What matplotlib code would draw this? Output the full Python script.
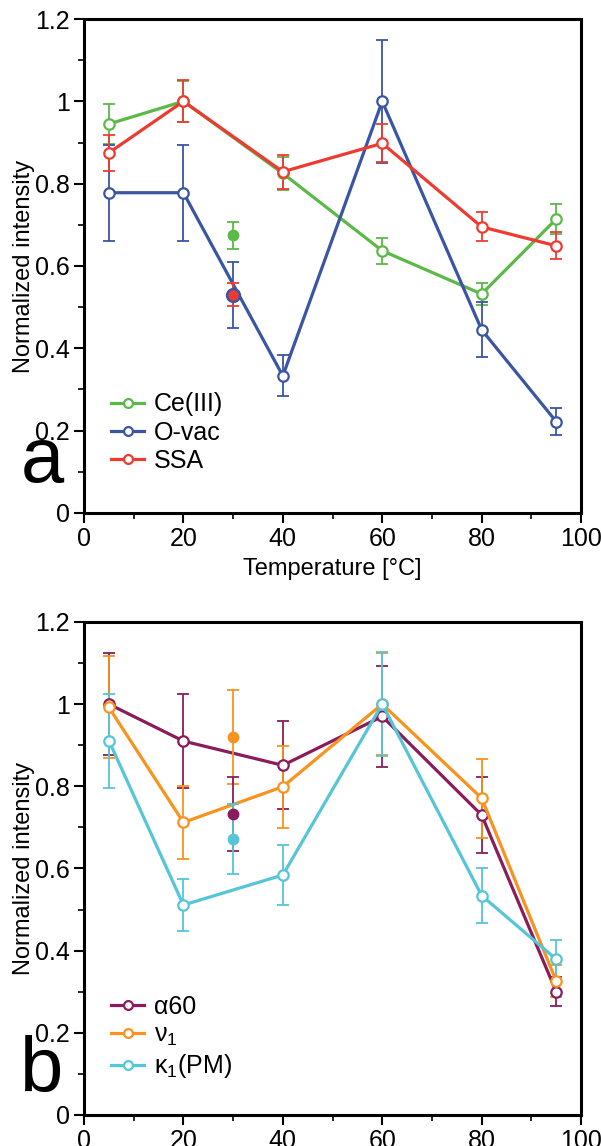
import matplotlib
matplotlib.use("Agg")
import matplotlib.pyplot as plt
from matplotlib.ticker import MultipleLocator, FuncFormatter

plt.rcParams["font.family"] = ["Liberation Sans", "DejaVu Sans"]
plt.rcParams["mathtext.fontset"] = "custom"
plt.rcParams["mathtext.rm"] = "Liberation Sans"
plt.rcParams["mathtext.it"] = "Liberation Sans"

# ── data ─────────────────────────────────────────────────────────────────────
temps = [5, 20, 40, 60, 80, 95]       # connected (open) points
t_ref = 30                            # separate reference point (filled)

# panel a
ce3 = [0.945, 1.0, 0.825, 0.637, 0.532, 0.714]
ce3_err = [0.048, 0.05, 0.04, 0.032, 0.027, 0.037]
ovac = [0.778, 0.778, 0.333, 1.0, 0.445, 0.222]
ovac_err = [0.117, 0.117, 0.05, 0.15, 0.067, 0.033]
ssa = [0.875, 1.0, 0.829, 0.898, 0.695, 0.649]
ssa_err = [0.044, 0.051, 0.041, 0.046, 0.035, 0.033]
ce3_ref, ce3_ref_err = 0.675, 0.033
ovac_ref, ovac_ref_err = 0.53, 0.08
ssa_ref, ssa_ref_err = 0.53, 0.028

# panel b
a60 = [1.0, 0.91, 0.851, 0.97, 0.73, 0.30]
a60_err = [0.125, 0.114, 0.107, 0.122, 0.092, 0.036]
nu1 = [0.992, 0.712, 0.799, 1.0, 0.771, 0.326]
nu1_err = [0.124, 0.088, 0.1, 0.125, 0.096, 0.04]
k1 = [0.911, 0.511, 0.584, 1.0, 0.534, 0.379]
k1_err = [0.114, 0.064, 0.073, 0.127, 0.068, 0.046]
a60_ref, a60_ref_err = 0.733, 0.09
nu1_ref, nu1_ref_err = 0.92, 0.115
k1_ref, k1_ref_err = 0.672, 0.086

C_GREEN, C_BLUE, C_RED = "#5BB947", "#3B55A5", "#EE3B30"
C_PURPLE, C_ORANGE, C_CYAN = "#8A1C5C", "#F7931E", "#55C5D8"

FS = 18


def style_axes(ax):
    ax.set_xlim(0, 100)
    ax.set_ylim(0, 1.2)
    ax.xaxis.set_major_locator(MultipleLocator(20))
    ax.xaxis.set_minor_locator(MultipleLocator(10))
    ax.yaxis.set_major_locator(MultipleLocator(0.2))
    ax.yaxis.set_minor_locator(MultipleLocator(0.1))
    ax.yaxis.set_major_formatter(FuncFormatter(lambda v, p: f"{v:g}"))
    ax.tick_params(which="major", direction="out", length=7, width=1.5,
                   labelsize=FS, pad=3)
    ax.tick_params(which="minor", direction="out", length=4, width=1.2)
    for sp in ax.spines.values():
        sp.set_linewidth(2.2)
    ax.set_ylabel("Normalized intensity", fontsize=FS - 1)
    ax.yaxis.set_label_coords(-0.099, 0.5)


def series(ax, y, err, color, label):
    ax.errorbar(temps, y, yerr=err, fmt="none", ecolor=color, elinewidth=1.3,
                capsize=4, capthick=1.3, zorder=2)
    ax.plot(temps, y, "-o", color=color, lw=2.3, ms=7.5, mfc="white",
            mec=color, mew=1.6, label=label, zorder=3)


def ref_point(ax, y, err, color, ms=7.5):
    ax.errorbar([t_ref], [y], yerr=[err], fmt="o", color=color, ms=ms,
                elinewidth=1.3, capsize=4, capthick=1.3, zorder=4)


def legend(ax):
    return ax.legend(loc="upper left", bbox_to_anchor=(0.055, 0.244),
                     frameon=False, fontsize=FS, handlelength=1.3,
                     handletextpad=0.4, labelspacing=0.17, borderpad=0,
                     borderaxespad=0, markerscale=0.85)


fig = plt.figure(figsize=(6.01, 11.46), dpi=100)

# ── panel a ──────────────────────────────────────────────────────────────────
ax_a = fig.add_axes([0.1398, 0.5524, 0.8270, 0.4310])
series(ax_a, ce3, ce3_err, C_GREEN, "Ce(III)")
series(ax_a, ovac, ovac_err, C_BLUE, "O-vac")
series(ax_a, ssa, ssa_err, C_RED, "SSA")
ref_point(ax_a, ce3_ref, ce3_ref_err, C_GREEN)
ref_point(ax_a, ovac_ref, ovac_ref_err, C_BLUE, ms=10)
ref_point(ax_a, ssa_ref, ssa_ref_err, C_RED, ms=6.5)
style_axes(ax_a)
ax_a.set_xlabel("Temperature [°C]", fontsize=FS - 1, labelpad=5)
legend(ax_a)
fig.text(0.034, 1 - 482 / 1146, "a", fontsize=56, va="baseline")

# ── panel b ──────────────────────────────────────────────────────────────────
ax_b = fig.add_axes([0.1398, 0.0271, 0.8270, 0.4302])
series(ax_b, a60, a60_err, C_PURPLE, "α60")
series(ax_b, nu1, nu1_err, C_ORANGE, "ν$_1$")
series(ax_b, k1, k1_err, C_CYAN, "κ$_1$(PM)")
ref_point(ax_b, nu1_ref, nu1_ref_err, C_ORANGE)
ref_point(ax_b, a60_ref, a60_ref_err, C_PURPLE)
ref_point(ax_b, k1_ref, k1_ref_err, C_CYAN)
style_axes(ax_b)
legend(ax_b)
fig.text(0.034, 1 - 1092 / 1146, "b", fontsize=56, va="baseline")

fig.savefig("out.png", dpi=100)
